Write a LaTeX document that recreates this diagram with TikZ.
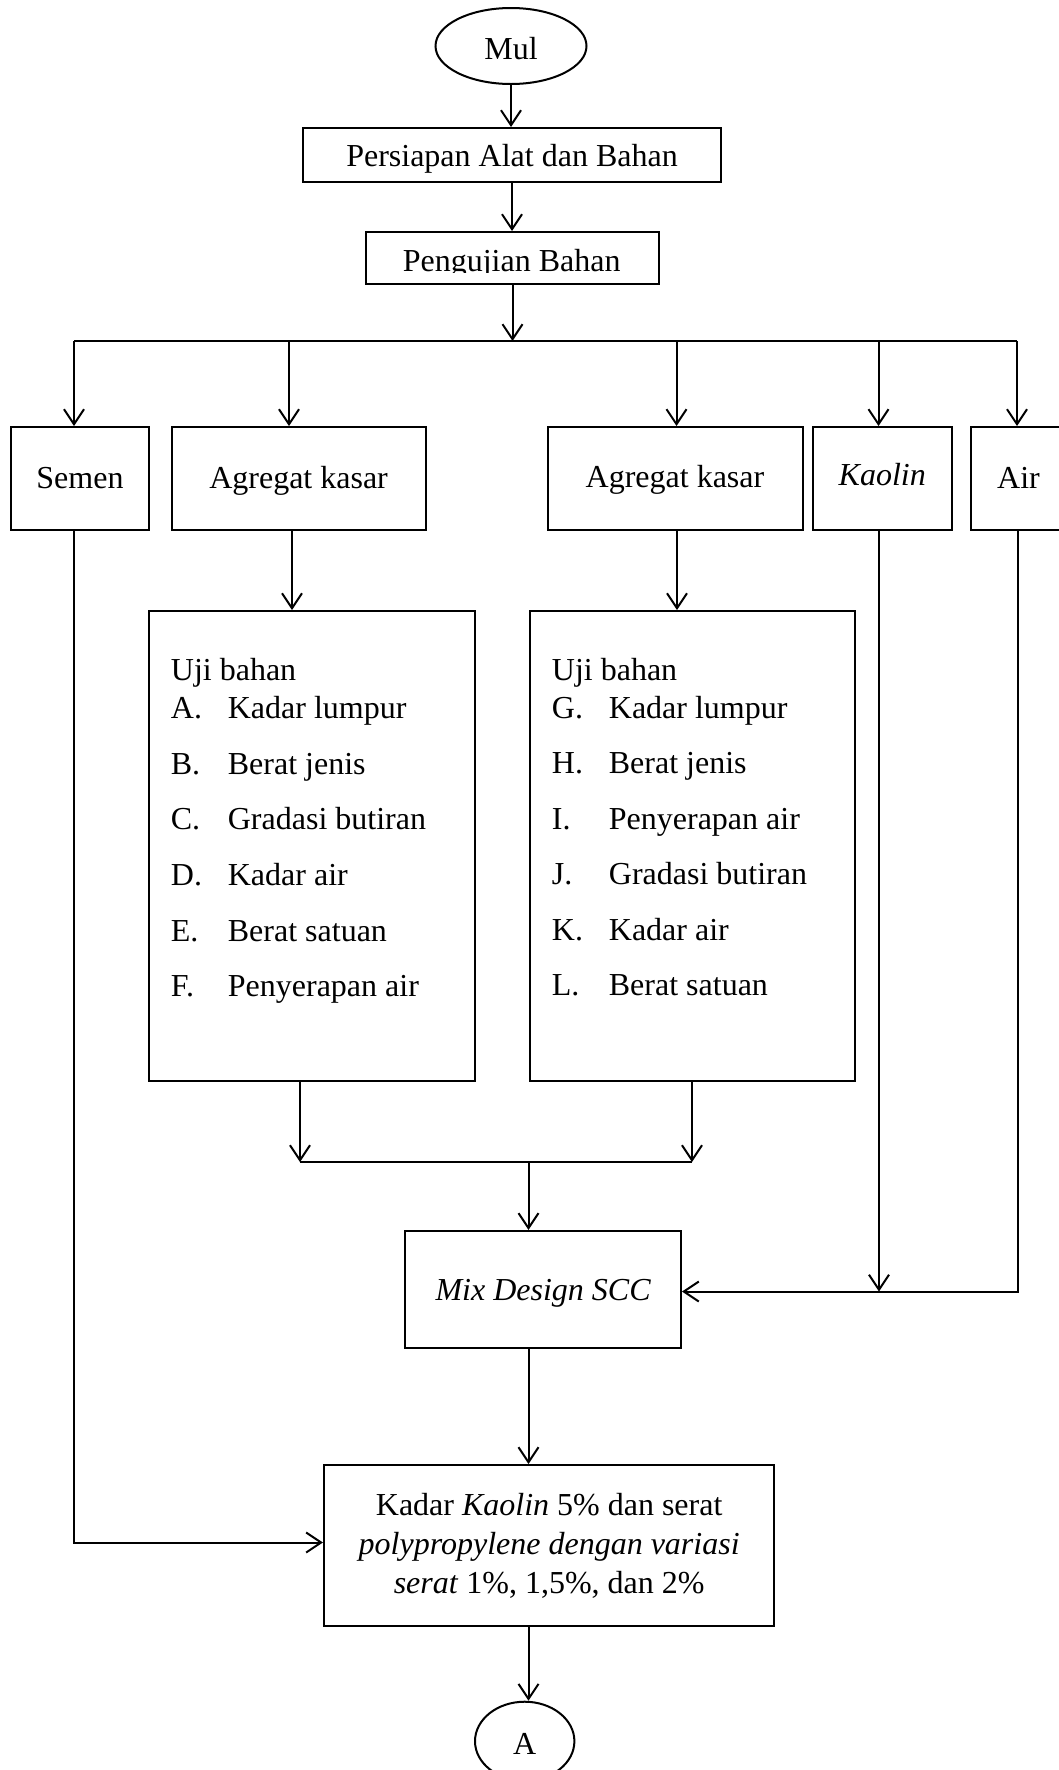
\documentclass[tikz,border=0pt]{standalone}
\usepackage{fontspec}
\setmainfont{Liberation Serif}
\usetikzlibrary{arrows.meta,shapes.geometric}
\tikzset{
  txt/.style={font=\fontsize{32}{38.3}\selectfont},
  box/.style={draw, line width=2pt, rectangle, inner sep=0pt, txt},
  oval/.style={draw, line width=2pt, ellipse, inner sep=0pt, txt},
  ln/.style={line width=2pt, line join=miter},
  arr/.style={ln, -{Straight Barb[length=15pt,width=20pt]}},
}
\begin{document}
\begin{tikzpicture}[x=1pt,y=-1pt]
\useasboundingbox (0,0) rectangle (1059,1770);
\clip (0,0) rectangle (1059,1770);
\fill[white] (0,0) rectangle (1059,1770);

% top
\node[oval, minimum width=151pt, minimum height=76pt, text height=26.6pt, text depth=0pt] (mul) at (511,46) {Mul};
\node[box, minimum width=418pt, minimum height=54pt, text height=23.4pt, text depth=0pt] (persiapan) at (512,155) {Persiapan Alat dan Bahan};
\node[box, minimum width=293pt, minimum height=52pt] (pengujian) at (512.5,258) {};
\begin{scope}
\clip (368,234) rectangle (657,272.6);
\node[txt, anchor=base, inner sep=0pt] (pengujiantext) at (511.7,271.7) {Pengujian Bahan};
\end{scope}

\draw[arr] (mul.south) -- (mul.south |- persiapan.north);
\draw[arr] (persiapan.south) -- (persiapan.south |- pengujian.north);

% bus
\coordinate (b1) at (74,341);
\coordinate (b2) at (289,341);
\coordinate (b3) at (676.5,341);
\coordinate (b4) at (878.5,341);
\coordinate (b5) at (1017,341);
\draw[arr] (pengujian.south) -- (pengujian.south |- b1);
\draw[ln] (b1) -- (b5);

% material boxes
\node[box, minimum width=138pt, minimum height=103pt, text height=19pt, text depth=0pt] (semen) at (80,478.5) {Semen};
\node[box, minimum width=254pt, minimum height=103pt, text height=19pt, text depth=0pt] (agr1) at (298.6,478.5) {Agregat kasar};
\node[box, minimum width=255pt, minimum height=103pt, text height=17pt, text depth=0pt] (agr2) at (675,478.5) {Agregat kasar};
\node[box, minimum width=139pt, minimum height=103pt, text height=14pt, text depth=0pt] (kaolin) at (882.3,478.5) {\textit{Kaolin}};
\node[box, minimum width=94.6pt, minimum height=103pt, text height=19pt, text depth=0pt] (air) at (1018.5,478.5) {Air};

\draw[arr] (b1) -- (b1 |- semen.north);
\draw[arr] (b2) -- (b2 |- agr1.north);
\draw[arr] (b3) -- (b3 |- agr2.north);
\draw[arr] (b4) -- (b4 |- kaolin.north);
\draw[arr] (b5) -- (b5 |- air.north);

% test boxes
\node[box, minimum width=325.5pt, minimum height=469.5pt] (uji1) at (311.8,845.8) {};
\node[box, minimum width=325pt, minimum height=469.5pt] (uji2) at (692,845.8) {};
\node[txt, anchor=base west, inner sep=0pt] (uji1t) at (170.7,680) {%
\begin{tabular}[t]{@{}p{57pt}@{}l@{}}
\multicolumn{2}{@{}l@{}}{Uji bahan}\\
A. & Kadar lumpur\\[17.4pt]
B. & Berat jenis\\[17.4pt]
C. & Gradasi butiran\\[17.4pt]
D. & Kadar air\\[17.4pt]
E. & Berat satuan\\[17.4pt]
F. & Penyerapan air
\end{tabular}};
\node[txt, anchor=base west, inner sep=0pt] (uji2t) at (551.7,680) {%
\begin{tabular}[t]{@{}p{57pt}@{}l@{}}
\multicolumn{2}{@{}l@{}}{Uji bahan}\\
G. & Kadar lumpur\\[17.2pt]
H. & Berat jenis\\[17.2pt]
I. & Penyerapan air\\[17.2pt]
J. & Gradasi butiran\\[17.2pt]
K. & Kadar air\\[17.2pt]
L. & Berat satuan
\end{tabular}};

\draw[arr] ([xshift=-6.6pt]agr1.south) -- ([xshift=-6.6pt]agr1.south |- uji1.north);
\draw[arr] ([xshift=2pt]agr2.south) -- ([xshift=2pt]agr2.south |- uji2.north);

% merge
\coordinate (m1) at (300,1162);
\coordinate (m2) at (692,1162);
\coordinate (mm) at (528.5,1162);
\draw[arr] (uji1.south -| m1) -- (m1);
\draw[arr] (uji2.south -| m2) -- (m2);
\draw[ln] (m1) -- (m2);

% mix design
\node[box, minimum width=275.6pt, minimum height=117.5pt, text height=20.6pt, text depth=0pt] (mix) at (543.2,1289.7) {\textit{Mix Design SCC}};
\draw[arr] (mm) -- (mm |- mix.north);

\coordinate (k1) at (879,1291.5);
\coordinate (a1) at (1017.7,1291.5);
\draw[arr] (kaolin.south -| k1) -- (k1);
\draw[arr] (air.south -| a1) -- (a1) -- (a1 -| mix.east);

% final box
\node[box, minimum width=450.5pt, minimum height=161pt, text height=0pt, text depth=61pt, font=\fontsize{32}{39}\selectfont] (final) at (549.2,1545.5) {%
\begin{tabular}[t]{@{}c@{}}
Kadar \textit{Kaolin} 5\% dan serat\\
\textit{polypropylene dengan variasi}\\
\textit{serat} 1\%, 1,5\%, dan 2\%
\end{tabular}};
\draw[arr] (mix.south -| mm) -- (mm |- final.north);

\coordinate (s1) at (74,1542.5);
\draw[arr] (semen.south -| s1) -- (s1) -- (s1 -| final.west);

% connector A
\node[oval, minimum width=99.4pt, minimum height=79pt, text height=25.6pt, text depth=0pt] (conA) at (524.7,1741.2) {A};
\draw[arr] (final.south -| mm) -- (mm |- conA.north);
\end{tikzpicture}
\end{document}
